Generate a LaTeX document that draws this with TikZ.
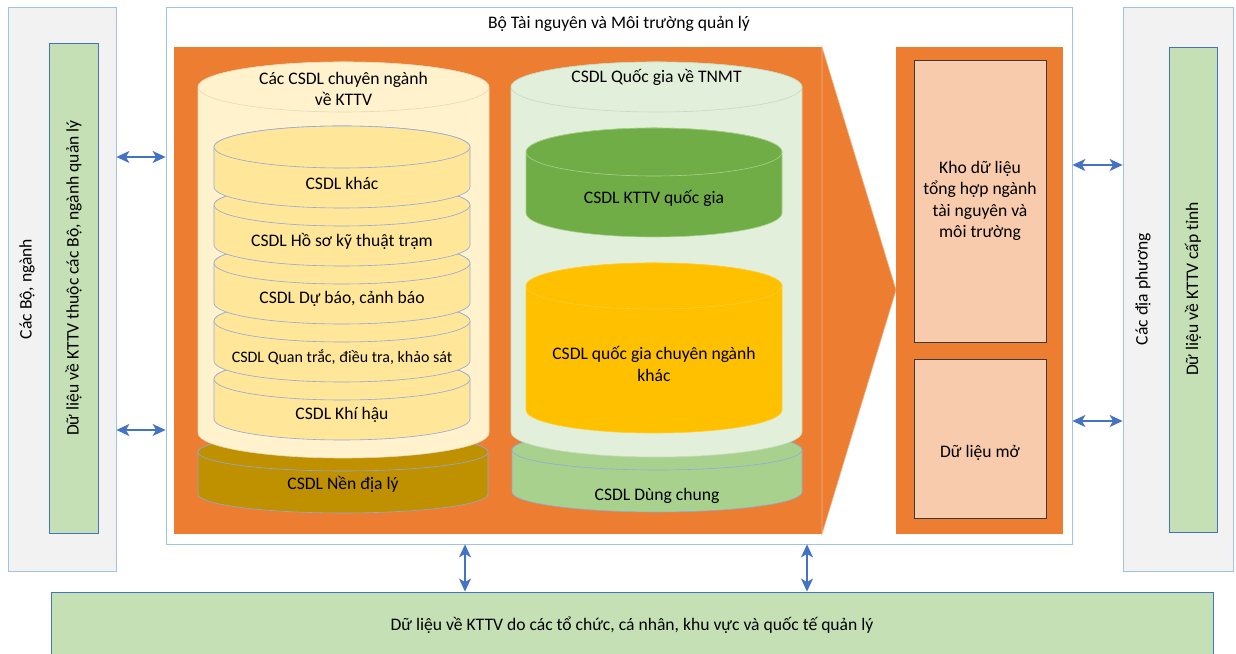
\documentclass[tikz,border=0pt]{standalone}
\usepackage{fontspec}
\setmainfont{Carlito}
\usetikzlibrary{arrows.meta}
\definecolor{orng}{HTML}{ED7D31}
\definecolor{orngl}{HTML}{F4B183}
\definecolor{pgray}{HTML}{F2F2F2}
\definecolor{pborder}{HTML}{9DC3E6}
\definecolor{lgreen}{HTML}{C5E0B4}
\definecolor{bblue}{HTML}{4472C4}
\definecolor{cylA}{HTML}{FFF2CC}
\definecolor{cylAline}{HTML}{E6DAB8}
\definecolor{cylB}{HTML}{FFE699}
\definecolor{cylline}{HTML}{8FAADC}
\definecolor{nen}{HTML}{BF9000}
\definecolor{cylC}{HTML}{E2EFDA}
\definecolor{cylCline}{HTML}{C9D9BE}
\definecolor{kgreen}{HTML}{70AD47}
\definecolor{kgreenline}{HTML}{A9D18E}
\definecolor{kyel}{HTML}{FFC000}
\definecolor{dung}{HTML}{A9D18E}
\definecolor{peach}{HTML}{F8CBAD}
\definecolor{dkline}{HTML}{3A3A3A}
\newcommand\mycyl[8]{%
  \path[fill=#6,draw=#7,line width=#8] (#1-#4,#2) -- (#1-#4,#3)
    arc[start angle=180,end angle=360,x radius=#4pt,y radius=#5pt] -- (#1+#4,#2)
    arc[start angle=0,end angle=180,x radius=#4pt,y radius=#5pt] -- cycle;
  \path[fill=#6,draw=#7,line width=#8] (#1,#2) ellipse[x radius=#4pt,y radius=#5pt];
}
\tikzset{
  txt/.style={font=\fontsize{17.6}{21.5}\selectfont, align=center, inner sep=0pt},
  panel/.style={draw=pborder, fill=pgray, line width=0.8pt, inner sep=0pt},
  gbox/.style={draw=bblue, fill=lgreen, line width=0.9pt, inner sep=0pt},
  pbox/.style={draw=dkline, fill=peach, line width=0.9pt, inner sep=0pt},
  biarrow/.style={draw=bblue, line width=1.5pt,
    {Stealth[length=13pt,width=12pt,inset=3.5pt]}-{Stealth[length=13pt,width=12pt,inset=3.5pt]}},
}
\begin{document}
\begin{tikzpicture}[x=1pt,y=1pt]
\useasboundingbox (0,0) rectangle (1236,653);
\clip (0,0) rectangle (1236,653);
\fill[white] (0,0) rectangle (1236,653);

% side panels
\node[panel, minimum width=108pt, minimum height=564pt] (leftpanel) at (62,364) {};
\node[gbox, minimum width=49pt, minimum height=490pt] (leftgreen) at (73.5,365) {};
\node[txt, rotate=90] (leftlabel) at (27,364) {Các Bộ, ngành};
\node[txt, rotate=90] (leftgreenlabel) at (73.5,375) {Dữ liệu về KTTV thuộc các Bộ, ngành quản lý};

\node[panel, minimum width=110pt, minimum height=564pt] (rightpanel) at (1178,364) {};
\node[gbox, minimum width=48pt, minimum height=485pt] (rightgreen) at (1193,363.5) {};
\node[txt, rotate=90] (rightlabel) at (1143,364) {Các địa phương};
\node[txt, rotate=90] (rightgreenlabel) at (1193,364) {Dữ liệu về KTTV cấp tỉnh};

% main box
\node[draw=pborder, fill=white, line width=0.8pt, minimum width=906pt, minimum height=537pt, inner sep=0pt] (mainbox) at (619,377.5) {};
\node[txt] (title) at (619,629) {Bộ Tài nguyên và Môi trường quản lý};

% orange block arrow
\fill[orng] (174,119) rectangle (822,606);
\fill[orng] (822,606) -- (896,363) -- (822,119) -- cycle;
\draw[orngl, line width=0.6pt] (822,606) -- (896,363) -- (822,119) -- cycle;

% right orange
\node[fill=orng, minimum width=167pt, minimum height=487pt, inner sep=0pt] (rightorange) at (979.5,362.5) {};
\node[pbox, minimum width=132pt, minimum height=282pt] (kho) at (980,452) {};
\node[txt] (kholabel) at (980,452) {Kho dữ liệu\\tổng hợp ngành\\tài nguyên và\\môi trường};
\node[pbox, minimum width=132pt, minimum height=159pt] (mo) at (980,214.5) {};
\node[txt] (molabel) at (980,200) {Dữ liệu mở};

% left database stack
\mycyl{343}{201}{159}{145}{19}{nen}{cylline}{0.6pt}
\node[txt] (nenlabel) at (343,169) {CSDL Nền địa lý};
\mycyl{343.5}{566}{220}{145.5}{25}{cylA}{cylAline}{0.6pt}
\node[txt] (kttvtitle) at (343.5,564) {Các CSDL chuyên ngành\\về KTTV};
\mycyl{342}{274}{234}{128}{21}{cylB}{cylline}{0.6pt}
\node[txt] (khihau) at (342,238) {CSDL Khí hậu};
\mycyl{342}{332}{292}{128}{21}{cylB}{cylline}{0.6pt}
\node[txt, font=\fontsize{16}{19}\selectfont] (quantrac) at (342,296) {CSDL Quan trắc, điều tra, khảo sát};
\mycyl{342}{390}{350}{128}{21}{cylB}{cylline}{0.6pt}
\node[txt] (dubao) at (342,354) {CSDL Dự báo, cảnh báo};
\mycyl{342}{448}{408}{128}{21}{cylB}{cylline}{0.6pt}
\node[txt] (hoso) at (342,412) {CSDL Hồ sơ kỹ thuật trạm};
\mycyl{342}{506}{466}{128}{21}{cylB}{cylline}{0.6pt}
\node[txt] (khac) at (342,470) {CSDL khác};

% right database stack
\mycyl{657}{203}{161}{145}{20}{dung}{cylline}{0.6pt}
\node[txt] (dungchung) at (657,157) {CSDL Dùng chung};
\mycyl{656.5}{566}{221}{145.5}{25}{cylC}{cylCline}{0.6pt}
\node[txt] (tnmt) at (656.5,576) {CSDL Quốc gia về TNMT};
\mycyl{654}{501}{440}{128}{24}{kgreen}{kgreenline}{0.6pt}
\node[txt] (kttvqg) at (654,455) {CSDL KTTV quốc gia};
\mycyl{654}{367}{243}{128}{23}{kyel}{kyel!80!white}{0.6pt}
\node[txt] (qgkhac) at (654,289) {CSDL quốc gia chuyên ngành\\khác};

% bottom box
\node[gbox, minimum width=1162pt, minimum height=70pt] (bottombox) at (632,26) {};
\node[txt] (bottomlabel) at (632,28) {Dữ liệu về KTTV do các tổ chức, cá nhân, khu vực và quốc tế quản lý};

% arrows
\draw[biarrow] (leftpanel.east |- 0,496) -- (mainbox.west |- 0,496);
\draw[biarrow] (leftpanel.east |- 0,223) -- (mainbox.west |- 0,223);
\draw[biarrow] (mainbox.east |- 0,488) -- (rightpanel.west |- 0,488);
\draw[biarrow] (mainbox.east |- 0,232) -- (rightpanel.west |- 0,232);
\draw[biarrow] (mainbox.south -| 465,0) -- (bottombox.north -| 465,0);
\draw[biarrow] (mainbox.south -| 807,0) -- (bottombox.north -| 807,0);
\end{tikzpicture}
\end{document}
